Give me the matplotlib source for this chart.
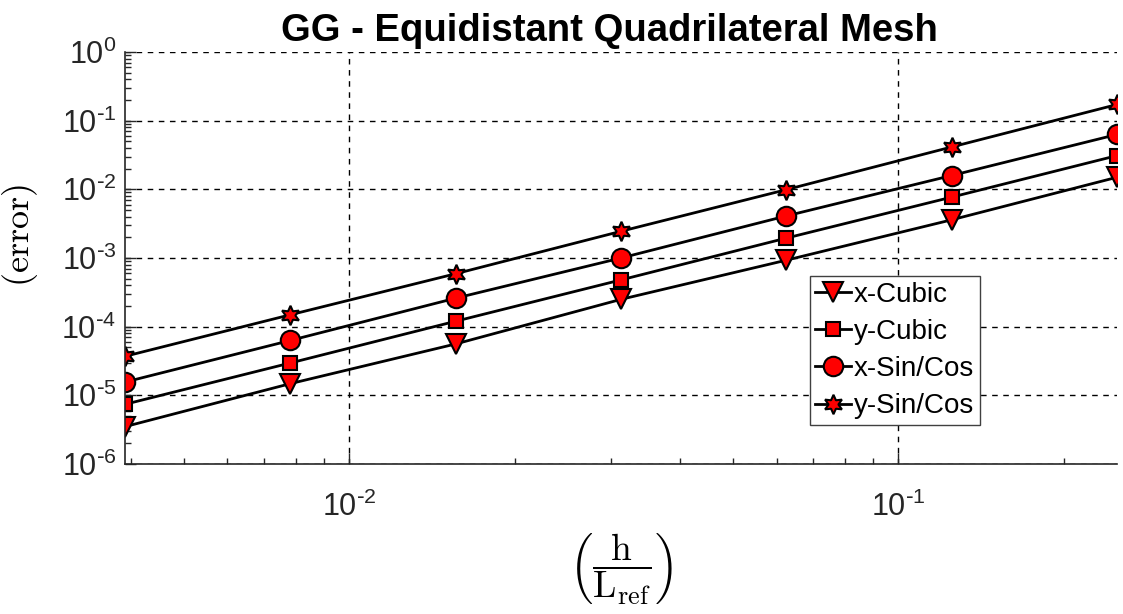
import numpy as np
import matplotlib
matplotlib.use('Agg')
import matplotlib.pyplot as plt
from matplotlib import ticker

# mesh sizes h/Lref and the errors
h = [1/256, 1/128, 1/64, 1/32, 1/16, 1/8, 1/4]
x_cubic = [3.5e-6, 1.48e-5, 5.6e-5, 2.5e-4, 9.3e-4, 3.6e-3, 1.5e-2]
y_cubic = [7.4e-6, 2.96e-5, 1.2e-4, 4.8e-4, 1.95e-3, 7.7e-3, 3.1e-2]
x_sincos = [1.56e-5, 6.3e-5, 2.6e-4, 1.0e-3, 4.1e-3, 1.59e-2, 6.3e-2]
y_sincos = [3.7e-5, 1.49e-4, 5.9e-4, 2.45e-3, 9.9e-3, 4.14e-2, 1.72e-1]

labels = ['x-Cubic', 'y-Cubic', 'x-Sin/Cos', 'y-Sin/Cos']
series = [x_cubic, y_cubic, x_sincos, y_sincos]
markers = ['v', 's', 'o', (6, 1, 0)]
msizes = [14, 10.5, 14, 14]

plt.rcParams['font.family'] = ['Liberation Sans', 'DejaVu Sans']


def pow10(v, pos):
    e = int(round(np.log10(v)))
    if e < 0:
        return r'$\mathdefault{10^{\text{-}%d}}$' % (-e)
    return r'$\mathdefault{10^{%d}}$' % e


fig = plt.figure(figsize=(11.23, 6.14), dpi=100)
ax = fig.add_axes([0.1113, 0.2443, 0.8834, 0.671])

for s, lab, m, ms in zip(series, labels, markers, msizes):
    ax.plot(h, s, color='black', lw=2, marker=m, markersize=ms,
            markerfacecolor='red', markeredgecolor='black', markeredgewidth=1.5,
            label=lab)

ax.set_xscale('log')
ax.set_yscale('log')
ax.set_xlim(1/256, 1/4)
ax.set_ylim(1e-6, 1)
ax.set_yticks([10.0**k for k in range(-6, 1)])
ax.set_xticks([1e-2, 1e-1])
ax.xaxis.set_major_formatter(ticker.FuncFormatter(pow10))
ax.yaxis.set_major_formatter(ticker.FuncFormatter(pow10))

ax.grid(True, which='major', color='black', linestyle=(0, (4, 4)), linewidth=1)
ax.spines['top'].set_visible(False)
ax.spines['right'].set_visible(False)
for sp in ['left', 'bottom']:
    ax.spines[sp].set_color('#262626')
    ax.spines[sp].set_linewidth(1.2)

ax.tick_params(which='both', direction='in', colors='#262626', labelsize=22)
ax.tick_params(which='major', length=8, width=1)
ax.tick_params(which='minor', length=4, width=1)
ax.tick_params(axis='x', pad=20)
ax.tick_params(axis='y', pad=6)

ax.set_title('GG - Equidistant Quadrilateral Mesh', fontsize=27.5,
             fontweight='bold', pad=8, x=0.488)
ax.set_ylabel(r'$(\mathrm{error})$', fontsize=26, math_fontfamily='cm')
ax.yaxis.set_label_coords(-0.086, 0.555)
ax.set_xlabel(r'$\left(\dfrac{\mathrm{h}}{\mathrm{L_{ref}}}\right)$',
              fontsize=27, math_fontfamily='cm', labelpad=6)

leg = ax.legend(loc='lower left', bbox_to_anchor=(0.69, 0.095), fontsize=20,
                handlelength=1.3, handletextpad=0.1, borderpad=0.2,
                labelspacing=0.4, borderaxespad=0, fancybox=False,
                framealpha=1, edgecolor='#404040')
leg.get_frame().set_linewidth(1)

fig.savefig('out.png', dpi=100)
